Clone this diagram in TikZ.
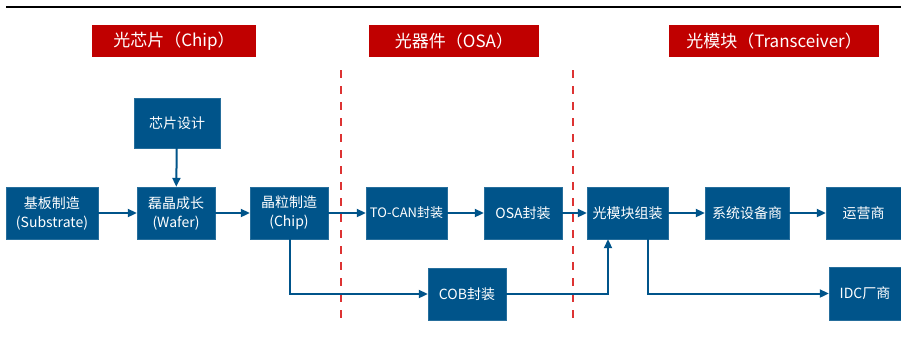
\documentclass[tikz,border=0pt]{standalone}
\usepackage{fontspec}
\setmainfont{Noto Sans CJK SC}
\usetikzlibrary{arrows.meta}
\definecolor{boxblue}{HTML}{00548A}
\definecolor{headred}{HTML}{C00000}
\definecolor{dashred}{HTML}{DD3333}
\tikzset{
    % process boxes
    stage/.style={draw=boxblue!85!white, fill=boxblue, text=white, minimum height=52pt, inner sep=0pt, align=center, font=\fontsize{14}{19}\selectfont},
    % red section titles
    phase/.style={fill=headred, text=white, minimum height=32pt, inner sep=0pt, font=\fontsize{17}{19}\selectfont},
    flow/.style={-{Triangle[length=9pt,width=8pt]}, line width=2pt, draw=boxblue},
    divider/.style={dashred, line width=1.3pt, dash pattern=on 8pt off 8pt}
}
\begin{document}
\begin{tikzpicture}[x=1pt, y=-1pt]
    \useasboundingbox (0,0) rectangle (901,341);
    \fill[white] (0,0) rectangle (901,341);

    % top rule
    \draw[line width=2.5pt] (6,7) -- (901,7);

    % section titles
    \node[phase, minimum width=164pt] (chiphead) at (174,41) {光芯片（Chip）};
    \node[phase, minimum width=170pt] (osahead) at (454,41) {光器件（OSA）};
    \node[phase, minimum width=210pt] (modhead) at (774,41) {光模块（Transceiver）};

    % section dividers
    \draw[divider] (341,70) -- (341,325);
    \draw[divider] (573,70) -- (573,325);

    % chip stage
    \node[stage, minimum width=86pt, minimum height=50pt] (design) at (177,123) {芯片设计};
    \node[stage, minimum width=92pt] (substrate) at (52,213) {基板制造\\(Substrate)};
    \node[stage, minimum width=78pt] (wafer) at (176,213) {磊晶成长\\(Wafer)};
    \node[stage, minimum width=78pt] (chip) at (289,213) {晶粒制造\\(Chip)};

    % OSA stage
    \node[stage, minimum width=81pt, font=\fontsize{13}{18}\selectfont] (tocan) at (406.5,213) {TO-CAN封装};
    \node[stage, minimum width=78pt] (osa) at (523,213) {OSA封装};
    \node[stage, minimum width=78pt] (cob) at (467,294) {COB封装};

    % transceiver stage
    \node[stage, minimum width=81pt] (assembly) at (627.5,213) {光模块组装};
    \node[stage, minimum width=84pt] (vendor) at (747,213) {系统设备商};
    \node[stage, minimum width=75pt] (operator) at (863.5,213) {运营商};
    \node[stage, minimum width=72pt, minimum height=53pt] (idc) at (865,293.5) {IDC厂商};

    % main flow
    \draw[flow] (design) -- (wafer);
    \draw[flow] (substrate) -- (wafer);
    \draw[flow] (wafer) -- (chip);
    \draw[flow] (chip) -- (tocan);
    \draw[flow] (tocan) -- (osa);
    \draw[flow] (osa) -- (assembly);
    \draw[flow] (assembly) -- (vendor);
    \draw[flow] (vendor) -- (operator);

    % COB and IDC branches
    \draw[flow] ([xshift=1pt]chip.south) |- (cob);
    \draw[flow] (cob) -| ([xshift=-19.5pt]assembly.south);
    \draw[flow] ([xshift=20.5pt]assembly.south) |- (idc);
\end{tikzpicture}
\end{document}
